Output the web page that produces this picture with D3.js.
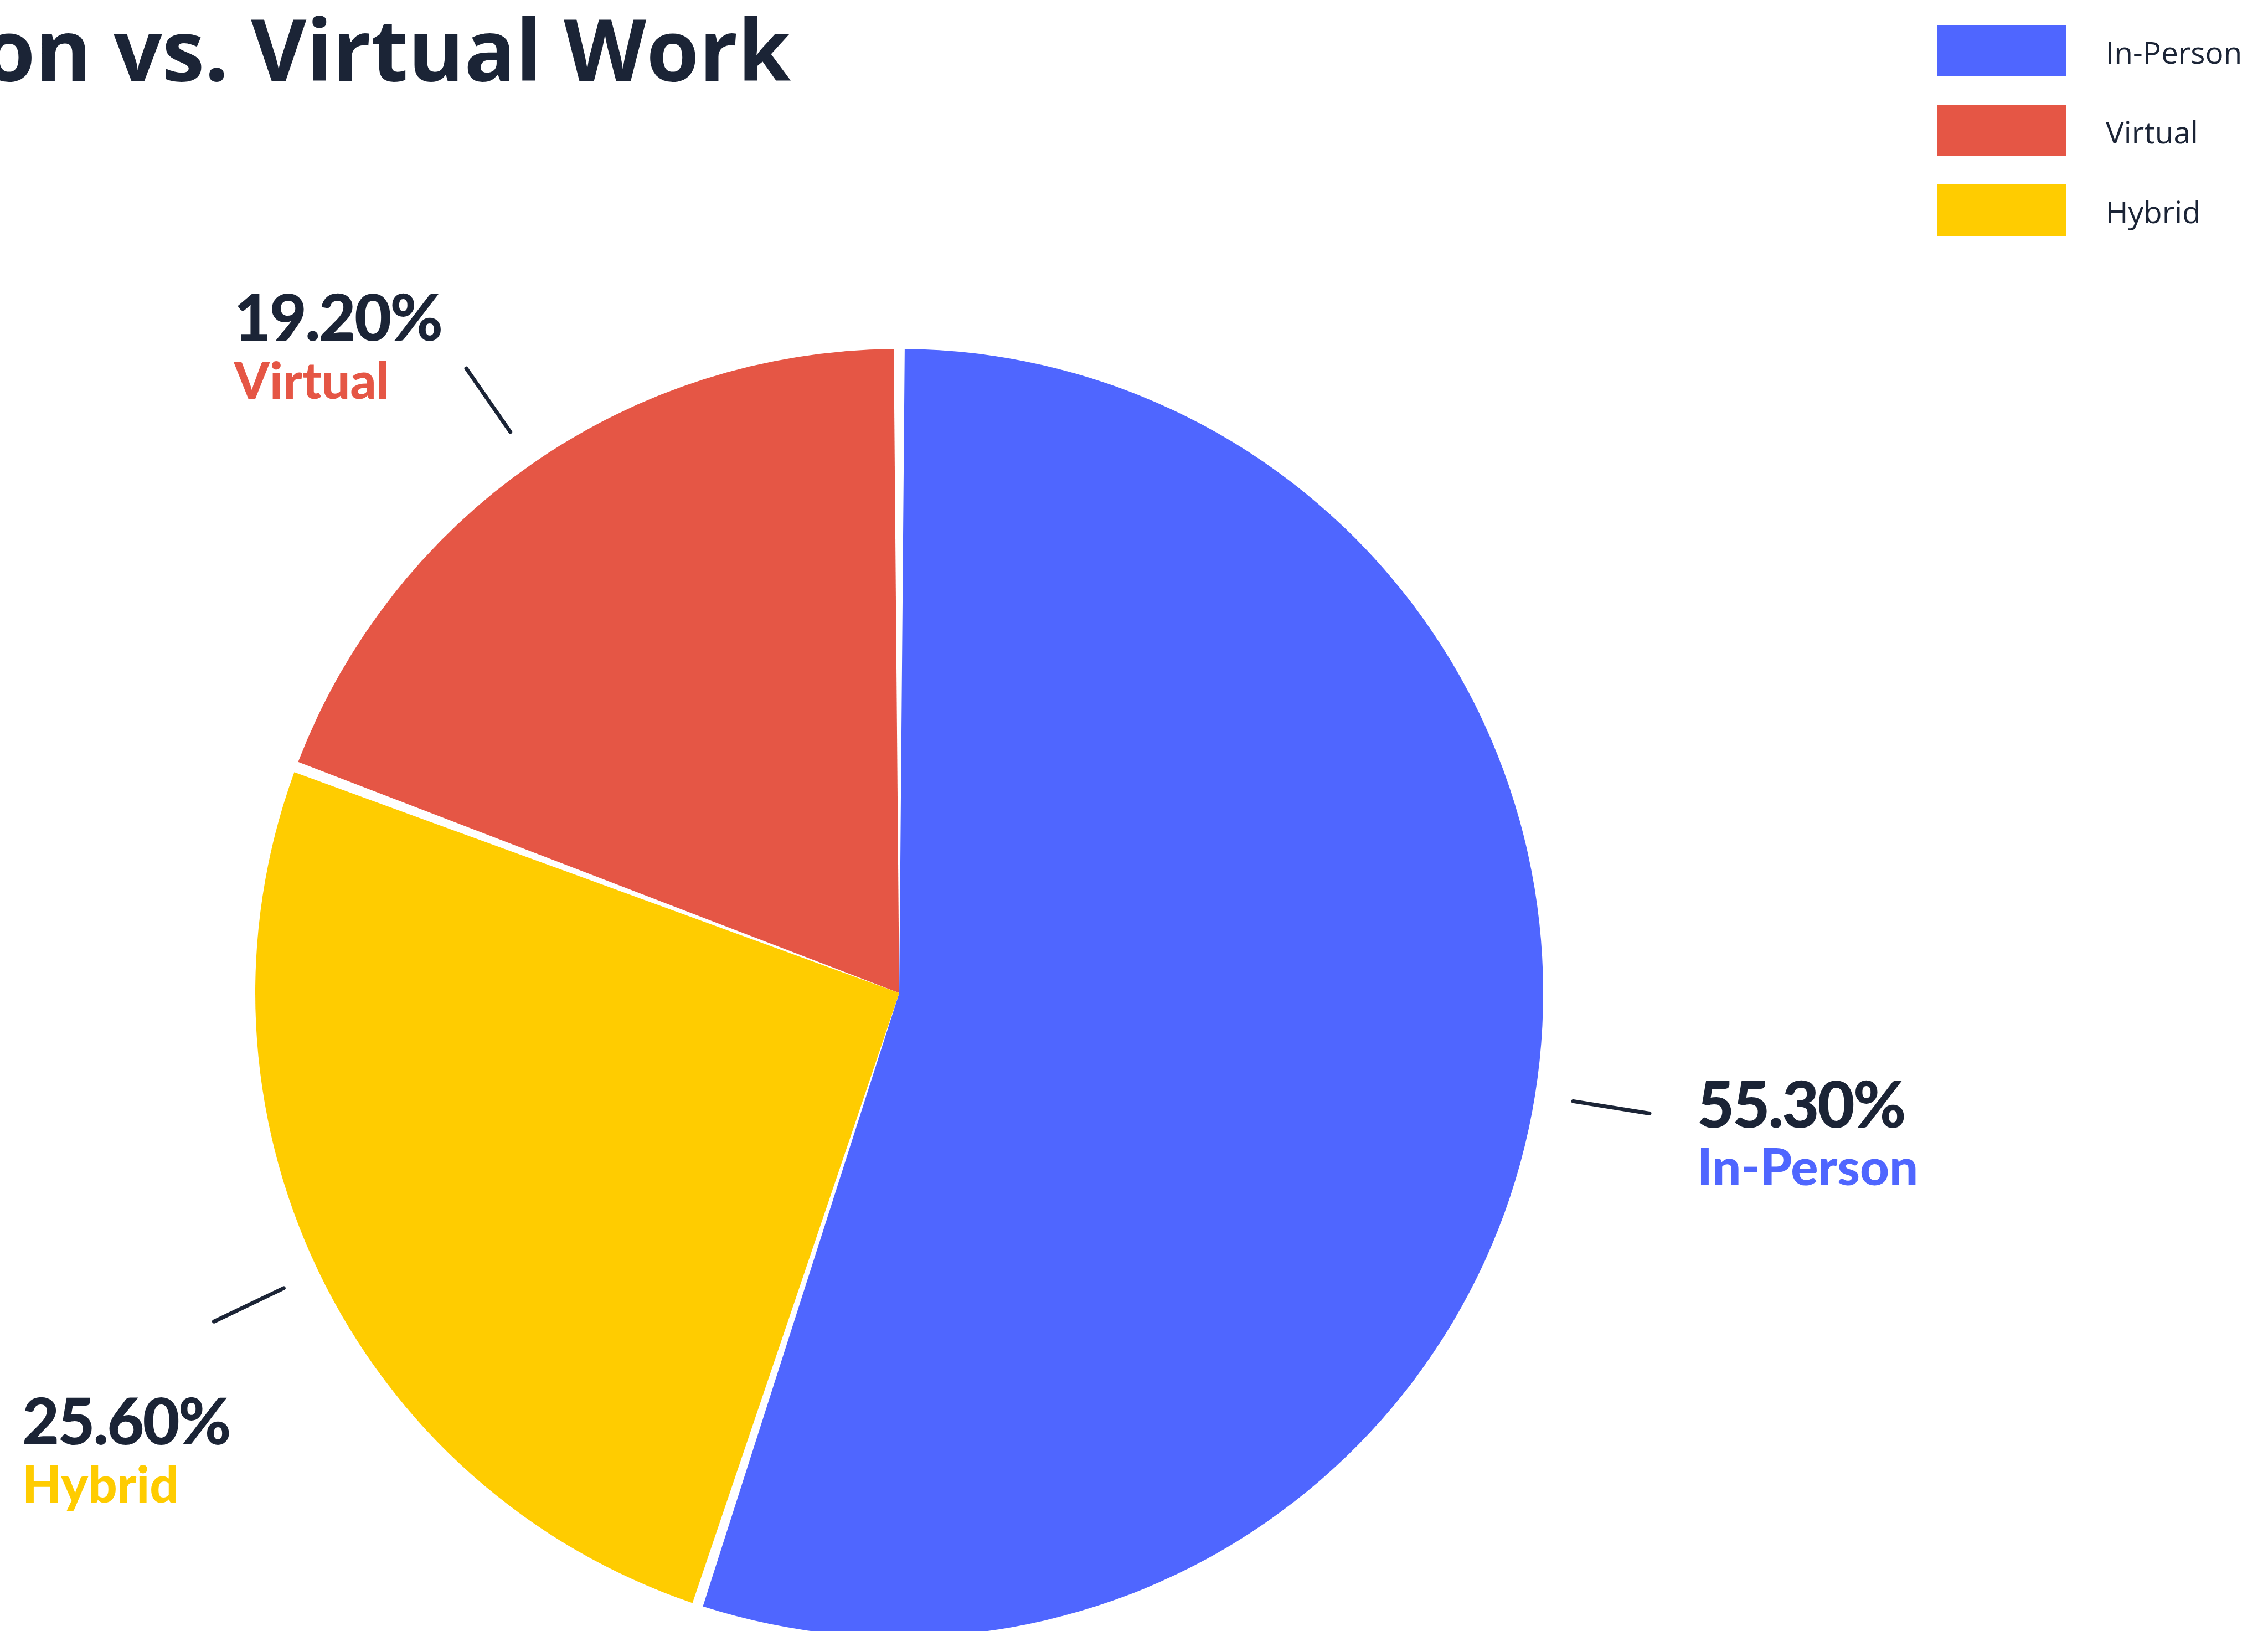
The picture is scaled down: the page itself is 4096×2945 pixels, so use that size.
<!DOCTYPE html>
<html>
<head>
<meta charset="utf-8">
<script src="https://cdn.jsdelivr.net/npm/d3@7"></script>
<style>
  html, body { margin: 0; padding: 0; background: #ffffff; overflow: hidden; }
  svg { display: block; }
</style>
</head>
<body>
<svg id="chart" width="4096" height="2945"></svg>
<script>
// Work arrangement shares (percent)
const categories = ["In-Person", "Virtual", "Hybrid"];
const shares = [55.3, 19.2, 25.6];
const valueLabels = ["55.30%", "19.20%", "25.60%"];
const palette = ["#4f66ff", "#e55645", "#ffcc00"];
const titleText = "In-Person vs. Virtual Work";

const W = 4096, H = 2945;
const ink = "#1b2436";
const svg = d3.select("#chart").attr("viewBox", `0 0 ${W} ${H}`);
svg.append("rect").attr("width", W).attr("height", H).attr("fill", "#ffffff");

const cx = 1624, cy = 1793, R = 1163;

const color = d3.scaleOrdinal().domain(categories).range(palette);
const rows = categories.map((c, i) => ({ name: c, value: shares[i], label: valueLabels[i] }));

const pie = d3.pie()
  .value(d => d.value)
  .sort((a, b) => b.value - a.value)
  .padAngle(0.017);
const arcs = pie(rows);

const arc = d3.arc().innerRadius(0).outerRadius(R);
const leaderStart = d3.arc().innerRadius(R * 1.06).outerRadius(R * 1.06);
const leaderEnd = d3.arc().innerRadius(R * 1.18).outerRadius(R * 1.18);

const g = svg.append("g").attr("transform", `translate(${cx},${cy})`);

g.selectAll("path.slice")
  .data(arcs)
  .join("path")
  .attr("class", "slice")
  .attr("d", arc)
  .attr("fill", d => color(d.data.name));

// Leader lines
g.selectAll("line.leader")
  .data(arcs)
  .join("line")
  .attr("class", "leader")
  .attr("x1", d => leaderStart.centroid(d)[0])
  .attr("y1", d => leaderStart.centroid(d)[1])
  .attr("x2", d => leaderEnd.centroid(d)[0])
  .attr("y2", d => leaderEnd.centroid(d)[1])
  .attr("stroke", ink)
  .attr("stroke-width", 7)
  .attr("stroke-linecap", "round");

// Value + name labels beside each leader end
const labelFont = "Lato, 'Noto Sans', sans-serif";
const edgeMargin = 40;
arcs.forEach(d => {
  const [ex, ey] = leaderEnd.centroid(d);
  const onRight = ex > 0;
  const upper = ey < 0;
  const lg = g.append("g");
  const num = lg.append("text")
    .text(d.data.label)
    .attr("font-family", labelFont)
    .attr("font-weight", 900)
    .attr("font-size", 116)
    .attr("letter-spacing", -3)
    .attr("fill", ink);
  const nm = lg.append("text")
    .text(d.data.name)
    .attr("font-family", labelFont)
    .attr("font-weight", 900)
    .attr("font-size", 92)
    .attr("fill", color(d.data.name));
  let x, yNum, yName;
  if (onRight) {
    x = ex + 86; yNum = ey + 25; yName = ey + 129;
  } else {
    const wNum = num.node().getComputedTextLength();
    x = Math.max(edgeMargin - cx, ex - 45 - wNum);
    if (upper) { yNum = ey - 50; yName = ey + 55; }
    else { yNum = ey + 222; yName = ey + 327; }
  }
  num.attr("x", x).attr("y", yNum);
  nm.attr("x", x).attr("y", yName);
});

// Title
svg.append("text")
  .attr("x", 1428)
  .attr("y", 146)
  .attr("text-anchor", "end")
  .attr("font-family", "'Open Sans', sans-serif")
  .attr("font-weight", 700)
  .attr("font-size", 154)
  .attr("fill", ink)
  .text(titleText);

// Legend
const legend = svg.append("g").attr("transform", "translate(3499,45)");
const item = legend.selectAll("g.item")
  .data(categories)
  .join("g")
  .attr("class", "item")
  .attr("transform", (d, i) => `translate(0,${i * 144})`);
item.append("rect")
  .attr("width", 233)
  .attr("height", 93)
  .attr("fill", d => color(d));
item.append("text")
  .attr("x", 304)
  .attr("y", 70)
  .attr("font-family", "'Open Sans', sans-serif")
  .attr("font-weight", 500)
  .attr("font-size", 55)
  .attr("fill", ink)
  .text(d => d);
</script>
</body>
</html>
